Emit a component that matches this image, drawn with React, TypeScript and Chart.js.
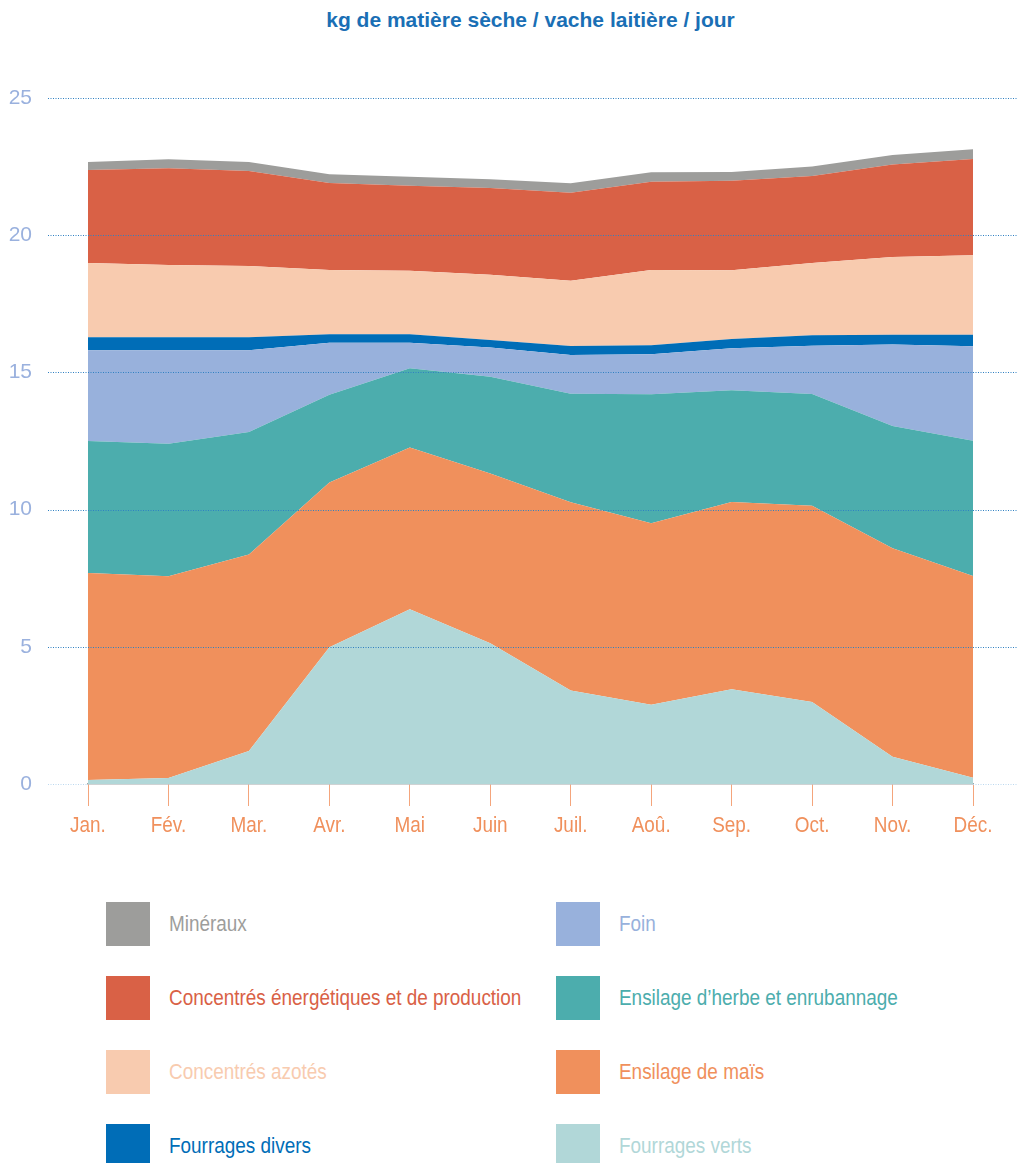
import React, { useEffect, useRef } from "react";
import { Chart, registerables } from "chart.js";

Chart.register(...registerables);

const months = ["Jan.", "Fév.", "Mar.", "Avr.", "Mai", "Juin", "Juil.", "Aoû.", "Sep.", "Oct.", "Nov.", "Déc."];
const yTicks = [0, 5, 10, 15, 20, 25];

const fourragesVerts = [0.15, 0.22, 1.2, 4.98, 6.37, 5.13, 3.41, 2.89, 3.45, 2.99, 0.99, 0.23];
const ensilageMais = [7.54, 7.35, 7.16, 6.01, 5.89, 6.19, 6.86, 6.61, 6.83, 7.15, 7.6, 7.35];
const ensilageHerbe = [4.81, 4.83, 4.47, 3.2, 2.89, 3.52, 3.95, 4.7, 4.07, 4.07, 4.46, 4.93];
const foin = [3.31, 3.41, 2.98, 1.89, 0.93, 1.07, 1.41, 1.46, 1.53, 1.76, 2.97, 3.44];
const fourragesDivers = [0.47, 0.47, 0.47, 0.31, 0.31, 0.27, 0.33, 0.33, 0.34, 0.38, 0.35, 0.42];
const concentresAzotes = [2.71, 2.63, 2.6, 2.34, 2.31, 2.38, 2.38, 2.74, 2.5, 2.64, 2.84, 2.9];
const concentresEnergetiques = [3.39, 3.53, 3.46, 3.17, 3.1, 3.16, 3.21, 3.22, 3.26, 3.17, 3.37, 3.51];
const mineraux = [0.29, 0.33, 0.33, 0.32, 0.33, 0.32, 0.34, 0.34, 0.32, 0.34, 0.34, 0.35];

const seriesNames = [
  "Fourrages verts",
  "Ensilage de maïs",
  "Ensilage d’herbe et enrubannage",
  "Foin",
  "Fourrages divers",
  "Concentrés azotés",
  "Concentrés énergétiques et de production",
  "Minéraux",
];
const seriesData = [fourragesVerts, ensilageMais, ensilageHerbe, foin, fourragesDivers, concentresAzotes, concentresEnergetiques, mineraux];
const seriesColors = ["#b1d7d8", "#f0905c", "#4cadad", "#98b1dc", "#006db7", "#f8cbaf", "#d96146", "#9d9d9b"];

// legend layout order: left column then right column
const legendLeft = [7, 6, 5, 4];
const legendRight = [3, 2, 1, 0];

const title = "kg de matière sèche / vache laitière / jour";

const sans = "'Liberation Sans', Arial, sans-serif";
const NARROW = 0.86;

const dottedGrid = {
  id: "dottedGrid",
  afterDatasetsDraw(chart: any) {
    const { ctx, chartArea, scales } = chart;
    const y = scales.y;
    ctx.save();
    ctx.lineWidth = 1;
    ctx.setLineDash([1, 1.5]);
    y.ticks.forEach((t: any) => {
      const py = Math.round(y.getPixelForValue(t.value)) + 0.5;
      if (t.value === 0) {
        ctx.strokeStyle = "#bcd8ef";
        ctx.beginPath();
        ctx.moveTo(48, py);
        ctx.lineTo(chartArea.left, py);
        ctx.moveTo(chartArea.right, py);
        ctx.lineTo(chart.width, py);
        ctx.stroke();
      } else {
        ctx.strokeStyle = "#2f80c2";
        ctx.beginPath();
        ctx.moveTo(48, py);
        ctx.lineTo(chart.width, py);
        ctx.stroke();
      }
    });
    ctx.restore();
  },
};

// condensed month labels placed at the x scale's tick positions
const narrowXLabels = {
  id: "narrowXLabels",
  afterDraw(chart: any) {
    const { ctx, scales } = chart;
    const x = scales.x;
    ctx.save();
    ctx.fillStyle = "#f0905c";
    ctx.font = `22px ${sans}`;
    ctx.textAlign = "center";
    ctx.textBaseline = "alphabetic";
    const labels = chart.data.labels as string[];
    labels.forEach((lab, i) => {
      const px = x.getPixelForTick(i);
      ctx.save();
      ctx.translate(px, x.top + 48);
      ctx.scale(NARROW, 1);
      ctx.fillText(lab, 0, 0);
      ctx.restore();
    });
    ctx.restore();
  },
};

export default function App() {
  const canvasRef = useRef<HTMLCanvasElement | null>(null);

  useEffect(() => {
    const canvas = canvasRef.current;
    if (!canvas) return;
    const datasets = seriesData.map((d, i) => ({
      label: seriesNames[i],
      data: d,
      backgroundColor: seriesColors[i],
      borderColor: seriesColors[i],
      borderWidth: 0,
      pointRadius: 0,
      pointHoverRadius: 0,
      tension: 0,
      fill: i === 0 ? "origin" : "-1",
    }));
    const chart = new Chart(canvas, {
      type: "line",
      data: { labels: months, datasets: datasets as any },
      options: {
        responsive: false,
        animation: false,
        events: [],
        layout: { padding: { top: 98, right: 45, left: 0, bottom: 0 } },
        plugins: {
          legend: { display: false },
          tooltip: { enabled: false },
          title: { display: false },
        },
        scales: {
          x: {
            type: "category",
            offset: false,
            z: 1,
            grid: {
              display: true,
              drawOnChartArea: false,
              drawTicks: true,
              tickLength: 22,
              tickColor: "#f4a57c",
              tickWidth: 1,
              offset: false,
            },
            border: { display: true, color: "#9fa6a8", width: 1.5 },
            ticks: {
              display: false,
              autoSkip: false,
              maxRotation: 0,
            },
            afterFit(scale: any) {
              scale.height = 76;
            },
          },
          y: {
            stacked: true,
            min: 0,
            max: 25,
            afterBuildTicks(scale: any) {
              scale.ticks = yTicks.map((v) => ({ value: v }));
            },
            grid: { display: false, drawTicks: false },
            border: { display: false },
            ticks: {
              color: "#9ab1de",
              font: { family: sans, size: 21 },
              padding: 56,
            },
            afterFit(scale: any) {
              scale.width = 88;
            },
          },
        },
      },
      plugins: [dottedGrid, narrowXLabels],
    });
    return () => chart.destroy();
  }, []);

  const legendItem = (idx: number, row: number, col: number) => {
    const sqX = col === 0 ? 106 : 556;
    const txtX = col === 0 ? 169 : 619;
    const top = 902 + row * 74;
    return (
      <React.Fragment key={idx}>
        <div
          style={{
            position: "absolute",
            left: sqX,
            top,
            width: 44,
            height: 44,
            background: seriesColors[idx],
          }}
        />
        <div
          style={{
            position: "absolute",
            left: txtX,
            top,
            height: 44,
            lineHeight: "44px",
            fontFamily: sans,
            fontSize: 22,
            color: seriesColors[idx],
            whiteSpace: "nowrap",
            transform: `scaleX(${NARROW})`,
            transformOrigin: "left center",
          }}
        >
          {seriesNames[idx]}
        </div>
      </React.Fragment>
    );
  };

  return (
    <div style={{ position: "absolute", left: 0, top: 0, width: 1018, height: 1163, background: "#fff", overflow: "hidden" }}>
      <div
        style={{
          position: "absolute",
          left: 88,
          width: 885,
          top: 6,
          textAlign: "center",
          fontFamily: sans,
          fontWeight: "bold",
          fontSize: 21,
          lineHeight: "28px",
          color: "#1a6fb5",
        }}
      >
        {title}
      </div>
      <canvas
        ref={canvasRef}
        width={1018}
        height={860}
        style={{ position: "absolute", left: 0, top: 0, width: 1018, height: 860 }}
      />
      {legendLeft.map((idx, r) => legendItem(idx, r, 0))}
      {legendRight.map((idx, r) => legendItem(idx, r, 1))}
    </div>
  );
}
